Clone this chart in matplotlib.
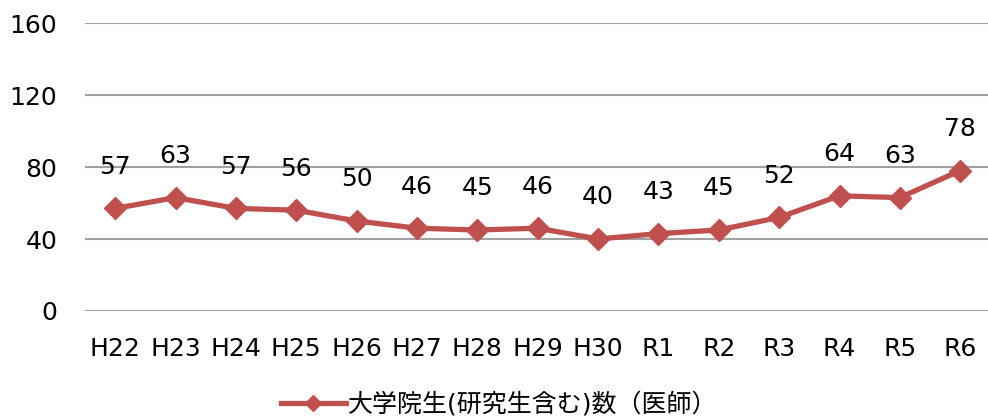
import matplotlib
matplotlib.use("Agg")
import matplotlib.pyplot as plt

categories = ["H22", "H23", "H24", "H25", "H26", "H27", "H28", "H29", "H30",
              "R1", "R2", "R3", "R4", "R5", "R6"]
values = [57, 63, 57, 56, 50, 46, 45, 46, 40, 43, 45, 52, 64, 63, 78]
series_name = "大学院生(研究生含む)数（医師）"
yticks = [0, 40, 80, 120, 160]

plt.rcParams['font.family'] = ['DejaVu Sans', 'Noto Sans CJK JP']

fig = plt.figure(figsize=(9.88, 4.19), dpi=100)
ax = fig.add_axes([85/988, 1 - 311/419, 903/988, (311 - 23)/419])

color = "#C0504D"
x = list(range(len(categories)))
ax.plot(x, values, color=color, linewidth=3.8, marker="D", markersize=11,
        label=series_name, zorder=3)
for xi, v in zip(x, values):
    ax.annotate(str(v), (xi, v), xytext=(0, 30), textcoords="offset points",
                ha="center", va="center", fontsize=18, color="#000000")

ax.set_xlim(-0.5, 14.46)
ax.set_ylim(0, 160)
ax.set_yticks(yticks)
ax.set_xticks(x)
ax.set_xticklabels(categories)
ax.tick_params(axis="both", length=0, labelsize=18)
ax.tick_params(axis="x", pad=19)
ax.tick_params(axis="y", pad=20)
ax.yaxis.grid(True, color="#A0A0A0", linewidth=1.5)
ax.set_axisbelow(True)
for s in ax.spines.values():
    s.set_visible(False)

fig.legend(loc="center", bbox_to_anchor=(499/988, 1 - 404/419), frameon=False,
           fontsize=18, handlelength=2.6, handletextpad=0.1, borderaxespad=0,
           markerscale=0.75)

fig.savefig("out.png", dpi=100)
